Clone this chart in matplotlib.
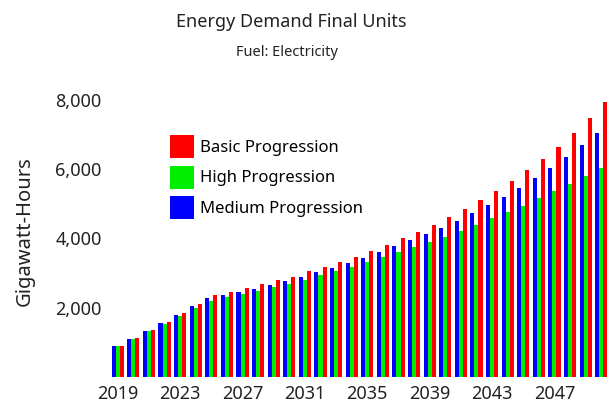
import numpy as np
import matplotlib
matplotlib.use('Agg')
import matplotlib.pyplot as plt

# Jahre und Werte (GWh)
jahre = np.arange(2019, 2051)

basic = [900, 1117, 1347, 1578, 1837, 2107, 2357, 2453, 2568, 2684,
         2790, 2895, 3050, 3166, 3328, 3473, 3646, 3819, 4002, 4194,
         4396, 4608, 4845, 5099, 5359, 5648, 5965, 6300, 6647, 7051,
         7475, 7945]
high = [900, 1097, 1328, 1539, 1751, 1991, 2193, 2300, 2395, 2491,
        2597, 2693, 2808, 2944, 3059, 3184, 3309, 3463, 3598, 3742,
        3896, 4040, 4223, 4396, 4579, 4753, 4935, 5157, 5359, 5579,
        5801, 6040]
medium = [900, 1097, 1328, 1558, 1789, 2049, 2271, 2366, 2462, 2549,
          2655, 2770, 2895, 3030, 3155, 3300, 3444, 3608, 3771, 3944,
          4118, 4300, 4511, 4738, 4955, 5204, 5455, 5743, 6032, 6349,
          6687, 7051]

tick_jahre = [2019, 2023, 2027, 2031, 2035, 2039, 2043, 2047]
y_ticks = [2000, 4000, 6000, 8000]

plt.rcParams['font.family'] = ['Noto Sans', 'DejaVu Sans']

fig = plt.figure(figsize=(6.09, 4.09), dpi=100)
ax = fig.add_axes([0.1806, 0.0782, 0.8194, 0.6944])

bw = 0.26
ax.bar(jahre - bw, medium, width=bw, color='#0000ff', label='Medium Progression')
ax.bar(jahre, high, width=bw, color='#00ee00', label='High Progression')
ax.bar(jahre + bw, basic, width=bw, color='#ff0000', label='Basic Progression')

ax.set_xlim(2018.5, 2050.5)
ax.set_ylim(0, 8200)
ax.set_xticks(tick_jahre)
ax.set_xticklabels([str(j) for j in tick_jahre])
ax.set_yticks(y_ticks)
ax.set_yticklabels([f'{v:,}' for v in y_ticks])
ax.tick_params(length=0, labelsize=13, colors='#222222', pad=6)
for s in ax.spines.values():
    s.set_visible(False)

fig.text(25 / 609, 1 - 231 / 409, 'Gigawatt-Hours', rotation=90,
         ha='center', va='center', fontsize=14.5, color='#222222')

fig.text(291 / 609, 1 - 22 / 409, 'Energy Demand Final Units',
         ha='center', va='center', fontsize=13, color='#222222')
fig.text(287 / 609, 1 - 53 / 409, 'Fuel: Electricity',
         ha='center', va='center', fontsize=10.5, color='#222222')

handles, labels = ax.get_legend_handles_labels()
order = [2, 1, 0]
leg = ax.legend([handles[i] for i in order], [labels[i] for i in order],
                loc='upper left', bbox_to_anchor=(170 / 609, 1 - 135 / 409),
                bbox_transform=fig.transFigure, frameon=False, fontsize=12,
                handlelength=1.45, handleheight=1.75, handletextpad=0.35,
                labelspacing=0.45, borderaxespad=0, borderpad=0)

fig.savefig('out.png', dpi=100)
